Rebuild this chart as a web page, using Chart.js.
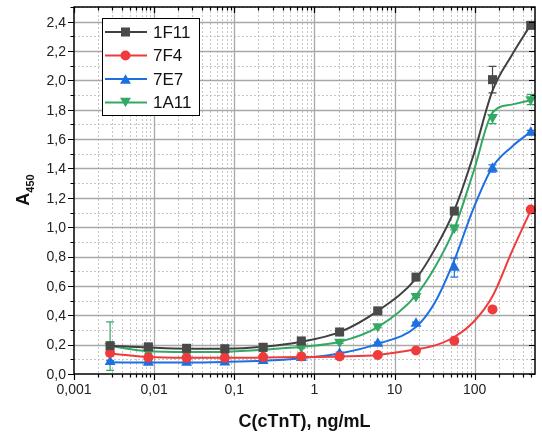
<!DOCTYPE html>
<html>
<head>
<meta charset="utf-8">
<script src="https://cdn.jsdelivr.net/npm/chart.js@4"></script>
<style>
  html, body { margin: 0; padding: 0; background: #fff; }
  #wrap { width: 542px; height: 439px; }
</style>
</head>
<body>
<div id="wrap"><canvas id="elisaChart" width="542" height="439"></canvas></div>
<script>
// concentrations, ng/mL (3-fold dilutions)
const conc = [0.00282, 0.00847, 0.0254, 0.0762, 0.229, 0.686, 2.06, 6.17, 18.5, 55.6, 166.7, 500];

// measured A450
const a1F11 = [0.193, 0.185, 0.175, 0.172, 0.182, 0.225, 0.286, 0.43, 0.66, 1.11, 2.005, 2.375];
const a7F4 = [0.143, 0.112, 0.11, 0.11, 0.115, 0.12, 0.12, 0.13, 0.16, 0.227, 0.44, 1.12];
const a7E7 = [0.082, 0.078, 0.078, 0.08, 0.09, 0.11, 0.14, 0.207, 0.343, 0.725, 1.40, 1.645];
const a1A11 = [0.19, 0.15, 0.15, 0.15, 0.165, 0.184, 0.218, 0.325, 0.53, 0.997, 1.75, 1.87];

// error bars (SD)
const e1F11 = [0.01, 0.01, 0.01, 0.01, 0.01, 0.01, 0.01, 0.01, 0.01, 0.015, 0.09, 0.02];
const e7F4 = [0.02, 0.01, 0.01, 0.01, 0.01, 0.01, 0.01, 0.01, 0.01, 0.01, 0.01, 0.01];
const e7E7 = [0.01, 0.01, 0.01, 0.01, 0.01, 0.01, 0.01, 0.01, 0.01, 0.065, 0.025, 0.015];
const e1A11 = [0.165, 0.01, 0.01, 0.01, 0.01, 0.01, 0.01, 0.01, 0.01, 0.015, 0.045, 0.035];

// fitted curves at these concentrations
const fitConc = [0.00282, 0.00847, 0.0254, 0.0762, 0.229, 0.686, 2.06, 6.17, 18.5, 32.1, 55.6, 96.3, 166.7, 288.7, 500];
const f1F11 = [0.193, 0.18, 0.172, 0.172, 0.185, 0.22, 0.285, 0.43, 0.65, 0.854, 1.115, 1.49, 1.93, 2.17, 2.38];
const f7F4 = [0.14, 0.115, 0.11, 0.11, 0.112, 0.115, 0.12, 0.13, 0.168, 0.195, 0.252, 0.354, 0.53, 0.83, 1.115];
const f7E7 = [0.08, 0.078, 0.078, 0.082, 0.09, 0.108, 0.14, 0.205, 0.32, 0.49, 0.775, 1.127, 1.41, 1.547, 1.65];
const f1A11 = [0.19, 0.155, 0.15, 0.152, 0.165, 0.185, 0.22, 0.32, 0.536, 0.73, 0.99, 1.376, 1.78, 1.835, 1.865];

const xTicks = [0.001, 0.01, 0.1, 1, 10, 100];
const xTickLabels = ["0,001", "0,01", "0,1", "1", "10", "100"];
const yTicks = [0, 0.2, 0.4, 0.6, 0.8, 1.0, 1.2, 1.4, 1.6, 1.8, 2.0, 2.2, 2.4];
const yTickLabels = ["0,0", "0,2", "0,4", "0,6", "0,8", "1,0", "1,2", "1,4", "1,6", "1,8", "2,0", "2,2", "2,4"];

const series = [
  { name: "1F11", vals: a1F11, err: e1F11, fit: f1F11, color: "#4a4a4a", line: "#404040", style: "rect", rot: 0, r: 6.4 },
  { name: "7F4", vals: a7F4, err: e7F4, fit: f7F4, color: "#ef3b3b", line: "#ef3b3b", style: "circle", rot: 0, r: 5 },
  { name: "7E7", vals: a7E7, err: e7E7, fit: f7E7, color: "#1e6fe0", line: "#1e6fe0", style: "triangle", rot: 0, r: 6.3 },
  { name: "1A11", vals: a1A11, err: e1A11, fit: f1A11, color: "#34a865", line: "#34a865", style: "triangle", rot: 180, r: 6.3 }
];

const FONT = "'Liberation Sans', Arial, sans-serif";

// minor ticks for log x and linear y
const xMinor = [];
for (let e = -3; e <= 2; e++) {
  for (let m = 2; m <= 9; m++) {
    const v = m * Math.pow(10, e);
    if (v < 565) xMinor.push(v);
  }
}
const yMinor = yTicks.map(v => v + 0.1);

function marker(ctx, style, rot, r, x, y) {
  ctx.beginPath();
  if (style === "rect") {
    const s = r * Math.SQRT1_2;
    ctx.rect(x - s, y - s, 2 * s, 2 * s);
  } else if (style === "circle") {
    ctx.arc(x, y, r, 0, Math.PI * 2);
  } else {
    const a0 = rot ? Math.PI / 2 : -Math.PI / 2;
    for (let k = 0; k < 3; k++) {
      const a = a0 + k * 2 * Math.PI / 3;
      const px = x + r * Math.cos(a), py = y + r * Math.sin(a) + (rot ? -r * 0.25 : r * 0.25);
      k ? ctx.lineTo(px, py) : ctx.moveTo(px, py);
    }
    ctx.closePath();
  }
  ctx.fill();
}

const framePlugin = {
  id: "framePlugin",
  beforeDatasetsDraw(chart) {
    const { ctx, chartArea: a, scales: { x, y } } = chart;
    ctx.save();
    // minor grid, dotted
    ctx.strokeStyle = "#c6c6c6";
    ctx.lineWidth = 1;
    ctx.setLineDash([2, 2]);
    ctx.beginPath();
    xMinor.forEach(v => {
      const px = Math.round(x.getPixelForValue(v)) + 0.5;
      ctx.moveTo(px, a.top); ctx.lineTo(px, a.bottom);
    });
    yMinor.forEach(v => {
      const py = Math.round(y.getPixelForValue(v)) + 0.5;
      ctx.moveTo(a.left, py); ctx.lineTo(a.right, py);
    });
    ctx.stroke();
    // major grid, solid
    ctx.setLineDash([]);
    ctx.strokeStyle = "#a8a8a8";
    ctx.lineWidth = 1.3;
    ctx.beginPath();
    xTicks.slice(1).forEach(v => {
      const px = Math.round(x.getPixelForValue(v)) + 0.5;
      ctx.moveTo(px, a.top); ctx.lineTo(px, a.bottom);
    });
    yTicks.slice(1).forEach(v => {
      const py = Math.round(y.getPixelForValue(v)) + 0.5;
      ctx.moveTo(a.left, py); ctx.lineTo(a.right, py);
    });
    ctx.stroke();
    // error bars
    ctx.lineWidth = 1.2;
    series.forEach(s => {
      ctx.strokeStyle = s.color;
      ctx.beginPath();
      s.err.forEach((e, i) => {
        const px = x.getPixelForValue(conc[i]);
        const top = y.getPixelForValue(s.vals[i] + e);
        const bot = y.getPixelForValue(s.vals[i] - e);
        ctx.moveTo(px, top); ctx.lineTo(px, bot);
        ctx.moveTo(px - 4, top); ctx.lineTo(px + 4, top);
        ctx.moveTo(px - 4, bot); ctx.lineTo(px + 4, bot);
      });
      ctx.stroke();
    });
    ctx.restore();
  },
  afterDraw(chart) {
    const { ctx, chartArea: a, scales: { x, y } } = chart;
    ctx.save();
    // frame
    ctx.strokeStyle = "#000";
    ctx.lineWidth = 1.5;
    ctx.strokeRect(a.left, a.top, a.right - a.left, a.bottom - a.top);

    // ticks
    ctx.lineWidth = 1.2;
    ctx.beginPath();
    xTicks.forEach(v => {
      const px = Math.round(x.getPixelForValue(v)) + 0.5;
      ctx.moveTo(px, a.bottom); ctx.lineTo(px, a.bottom + 6);
      ctx.moveTo(px, a.top); ctx.lineTo(px, a.top + 6);
    });
    xMinor.forEach(v => {
      const px = Math.round(x.getPixelForValue(v)) + 0.5;
      ctx.moveTo(px, a.bottom); ctx.lineTo(px, a.bottom + 3.5);
      ctx.moveTo(px, a.top); ctx.lineTo(px, a.top + 3.5);
    });
    yTicks.forEach(v => {
      const py = Math.round(y.getPixelForValue(v)) + 0.5;
      ctx.moveTo(a.left, py); ctx.lineTo(a.left - 6, py);
      ctx.moveTo(a.right, py); ctx.lineTo(a.right - 6, py);
    });
    yMinor.forEach(v => {
      const py = Math.round(y.getPixelForValue(v)) + 0.5;
      ctx.moveTo(a.left, py); ctx.lineTo(a.left - 3.5, py);
      ctx.moveTo(a.right, py); ctx.lineTo(a.right - 3.5, py);
    });
    ctx.stroke();

    // tick labels
    ctx.fillStyle = "#222";
    ctx.font = "14px " + FONT;
    ctx.textAlign = "center";
    ctx.textBaseline = "alphabetic";
    xTicks.forEach((v, i) => ctx.fillText(xTickLabels[i], x.getPixelForValue(v), a.bottom + 20));
    ctx.textAlign = "right";
    ctx.textBaseline = "middle";
    yTicks.forEach((v, i) => ctx.fillText(yTickLabels[i], a.left - 8, y.getPixelForValue(v) + 1));

    // axis titles
    ctx.fillStyle = "#111";
    ctx.font = "bold 18px " + FONT;
    ctx.textAlign = "center";
    ctx.textBaseline = "alphabetic";
    ctx.fillText("C(cTnT), ng/mL", (a.left + a.right) / 2, 427);

    ctx.save();
    ctx.translate(22, 190);
    ctx.rotate(-Math.PI / 2);
    ctx.textAlign = "left";
    ctx.font = "bold 18px " + FONT;
    const wA = ctx.measureText("A").width;
    ctx.font = "bold 11px " + FONT;
    const wS = ctx.measureText("450").width;
    const x0 = -(wA + wS) / 2;
    ctx.font = "bold 18px " + FONT;
    ctx.fillText("A", x0, 6.5);
    ctx.font = "bold 11px " + FONT;
    ctx.fillText("450", x0 + wA, 11.5);
    ctx.restore();

    // legend
    ctx.fillStyle = "#fff";
    ctx.fillRect(102, 18, 97, 97);
    ctx.strokeStyle = "#000";
    ctx.lineWidth = 1;
    ctx.strokeRect(102.5, 18.5, 97, 97);
    const rows = [32, 55.5, 79, 102.5];
    series.forEach((s, i) => {
      const ry = rows[i];
      ctx.strokeStyle = s.line;
      ctx.lineWidth = 2;
      ctx.beginPath();
      ctx.moveTo(105, ry); ctx.lineTo(147, ry);
      ctx.stroke();
      ctx.fillStyle = s.color;
      marker(ctx, s.style, s.rot, s.r, 125.5, ry);
      ctx.fillStyle = "#111";
      ctx.font = "17px " + FONT;
      ctx.textAlign = "left";
      ctx.textBaseline = "middle";
      ctx.fillText(s.name, 153, ry + 1);
    });
    ctx.restore();
  }
};

const datasets = [];
series.forEach(s => {
  datasets.push({
    label: s.name,
    data: conc.map((c, i) => ({ x: c, y: s.vals[i] })),
    showLine: false,
    pointStyle: s.style,
    pointRotation: s.rot,
    pointRadius: s.r,
    pointBorderWidth: 0,
    backgroundColor: s.color,
    borderColor: s.color,
    order: 0
  });
  datasets.push({
    label: s.name + " fit",
    data: fitConc.map((c, i) => ({ x: c, y: s.fit[i] })),
    borderColor: s.line,
    borderWidth: 2,
    pointRadius: 0,
    cubicInterpolationMode: "monotone",
    order: 1
  });
});

new Chart(document.getElementById("elisaChart"), {
  type: "line",
  data: { datasets },
  options: {
    responsive: false,
    animation: false,
    devicePixelRatio: 1,
    layout: { padding: { left: 74, right: 7, top: 7, bottom: 65 } },
    plugins: {
      legend: { display: false },
      tooltip: { enabled: false }
    },
    scales: {
      x: { type: "logarithmic", min: 0.001, max: 565, display: false },
      y: { type: "linear", min: 0, max: 2.5, display: false }
    },
    clip: false
  },
  plugins: [framePlugin]
});
</script>
</body>
</html>
